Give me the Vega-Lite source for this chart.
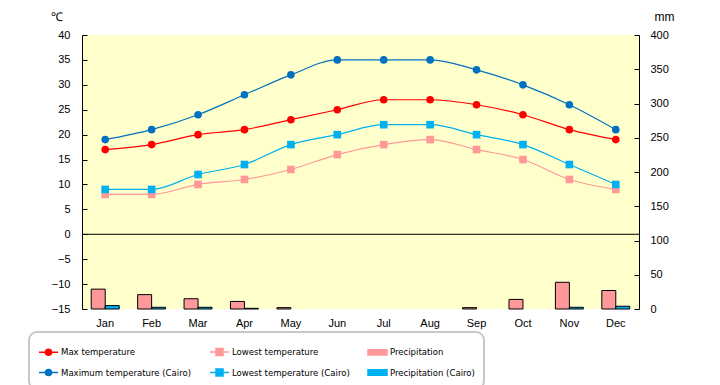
{
  "$schema": "https://vega.github.io/schema/vega-lite/v6.json",
  "width": 557,
  "height": 274,
  "autosize": {"type": "none"},
  "padding": {"left": 82, "top": 35, "right": 81, "bottom": 76},
  "background": "white",
  "config": {
    "view": {"fill": "#FFFFCC", "stroke": null},
    "font": "Liberation Sans",
    "axis": {"labelFont": "Liberation Sans", "labelFontSize": 11, "labelColor": "black", "titleFont": "Liberation Sans", "titleFontSize": 12, "titleFontWeight": "normal", "titleColor": "black", "grid": false, "domainColor": "black", "tickColor": "black", "labelOverlap": false}
  },
  "datasets": {
    "temps": [
      {"month": "Jan", "series": "Max temperature", "value": 17},
      {"month": "Feb", "series": "Max temperature", "value": 18},
      {"month": "Mar", "series": "Max temperature", "value": 20},
      {"month": "Apr", "series": "Max temperature", "value": 21},
      {"month": "May", "series": "Max temperature", "value": 23},
      {"month": "Jun", "series": "Max temperature", "value": 25},
      {"month": "Jul", "series": "Max temperature", "value": 27},
      {"month": "Aug", "series": "Max temperature", "value": 27},
      {"month": "Sep", "series": "Max temperature", "value": 26},
      {"month": "Oct", "series": "Max temperature", "value": 24},
      {"month": "Nov", "series": "Max temperature", "value": 21},
      {"month": "Dec", "series": "Max temperature", "value": 19},
      {"month": "Jan", "series": "Lowest temperature", "value": 8},
      {"month": "Feb", "series": "Lowest temperature", "value": 8},
      {"month": "Mar", "series": "Lowest temperature", "value": 10},
      {"month": "Apr", "series": "Lowest temperature", "value": 11},
      {"month": "May", "series": "Lowest temperature", "value": 13},
      {"month": "Jun", "series": "Lowest temperature", "value": 16},
      {"month": "Jul", "series": "Lowest temperature", "value": 18},
      {"month": "Aug", "series": "Lowest temperature", "value": 19},
      {"month": "Sep", "series": "Lowest temperature", "value": 17},
      {"month": "Oct", "series": "Lowest temperature", "value": 15},
      {"month": "Nov", "series": "Lowest temperature", "value": 11},
      {"month": "Dec", "series": "Lowest temperature", "value": 9},
      {"month": "Jan", "series": "Maximum temperature (Cairo)", "value": 19},
      {"month": "Feb", "series": "Maximum temperature (Cairo)", "value": 21},
      {"month": "Mar", "series": "Maximum temperature (Cairo)", "value": 24},
      {"month": "Apr", "series": "Maximum temperature (Cairo)", "value": 28},
      {"month": "May", "series": "Maximum temperature (Cairo)", "value": 32},
      {"month": "Jun", "series": "Maximum temperature (Cairo)", "value": 35},
      {"month": "Jul", "series": "Maximum temperature (Cairo)", "value": 35},
      {"month": "Aug", "series": "Maximum temperature (Cairo)", "value": 35},
      {"month": "Sep", "series": "Maximum temperature (Cairo)", "value": 33},
      {"month": "Oct", "series": "Maximum temperature (Cairo)", "value": 30},
      {"month": "Nov", "series": "Maximum temperature (Cairo)", "value": 26},
      {"month": "Dec", "series": "Maximum temperature (Cairo)", "value": 21},
      {"month": "Jan", "series": "Lowest temperature (Cairo)", "value": 9},
      {"month": "Feb", "series": "Lowest temperature (Cairo)", "value": 9},
      {"month": "Mar", "series": "Lowest temperature (Cairo)", "value": 12},
      {"month": "Apr", "series": "Lowest temperature (Cairo)", "value": 14},
      {"month": "May", "series": "Lowest temperature (Cairo)", "value": 18},
      {"month": "Jun", "series": "Lowest temperature (Cairo)", "value": 20},
      {"month": "Jul", "series": "Lowest temperature (Cairo)", "value": 22},
      {"month": "Aug", "series": "Lowest temperature (Cairo)", "value": 22},
      {"month": "Sep", "series": "Lowest temperature (Cairo)", "value": 20},
      {"month": "Oct", "series": "Lowest temperature (Cairo)", "value": 18},
      {"month": "Nov", "series": "Lowest temperature (Cairo)", "value": 14},
      {"month": "Dec", "series": "Lowest temperature (Cairo)", "value": 10}
    ],
    "precip": [
      {"month": "Jan", "series": "Precipitation", "value": 29},
      {"month": "Feb", "series": "Precipitation", "value": 21},
      {"month": "Mar", "series": "Precipitation", "value": 15},
      {"month": "Apr", "series": "Precipitation", "value": 11},
      {"month": "May", "series": "Precipitation", "value": 2},
      {"month": "Sep", "series": "Precipitation", "value": 2},
      {"month": "Oct", "series": "Precipitation", "value": 14},
      {"month": "Nov", "series": "Precipitation", "value": 39},
      {"month": "Dec", "series": "Precipitation", "value": 27},
      {"month": "Jan", "series": "Precipitation (Cairo)", "value": 5},
      {"month": "Feb", "series": "Precipitation (Cairo)", "value": 2.5},
      {"month": "Mar", "series": "Precipitation (Cairo)", "value": 2.5},
      {"month": "Apr", "series": "Precipitation (Cairo)", "value": 1},
      {"month": "Nov", "series": "Precipitation (Cairo)", "value": 2.5},
      {"month": "Dec", "series": "Precipitation (Cairo)", "value": 4}
    ]
  },
  "layer": [
    {
      "data": {"name": "precip"},
      "mark": {"type": "bar", "stroke": "black", "strokeWidth": 1},
      "encoding": {
        "x": {"field": "month", "type": "nominal", "sort": ["Jan","Feb","Mar","Apr","May","Jun","Jul","Aug","Sep","Oct","Nov","Dec"], "scale": {"paddingInner": 0, "paddingOuter": 0}, "axis": {"title": null, "domain": false, "ticks": false, "labelAngle": 0, "labelPadding": 8}},
        "xOffset": {"field": "series", "type": "nominal", "sort": ["Precipitation", "Precipitation (Cairo)"], "scale": {"paddingInner": 0, "paddingOuter": 0.66}},
        "y": {"field": "value", "type": "quantitative", "scale": {"domain": [0, 400], "nice": false}, "axis": {"orient": "right", "values": [0,50,100,150,200,250,300,350,400], "title": "mm", "titleAngle": 0, "titleX": 25, "titleY": -12, "titleAlign": "center", "titleBaseline": "bottom", "tickSize": -5, "labelPadding": 16}},
        "color": {
          "field": "series", "type": "nominal",
          "scale": {
            "domain": ["Max temperature", "Lowest temperature", "Precipitation", "Maximum temperature (Cairo)", "Lowest temperature (Cairo)", "Precipitation (Cairo)"],
            "range": ["#FF0000", "#FF9999", "#FF9999", "#0070C0", "#00B0F0", "#00B0F0"]
          },
          "legend": {
            "orient": "none", "legendX": -53, "legendY": 297, "columns": 3, "direction": "horizontal", "title": null,
            "strokeColor": "#C8C8C8", "cornerRadius": 8, "padding": 9, "fillColor": "white",
            "columnPadding": 15, "rowPadding": 3, "gridAlign": "each",
            "symbolSize": 361, "symbolStrokeWidth": 1.5, "symbolStrokeColor": "black", "labelFontSize": 9.5, "labelFont": "DejaVu Sans Condensed, Roboto Condensed, Liberation Sans Narrow, Roboto", "labelOffset": 2, "labelColor": "black",
            "encoding": {
              "symbols": {
                "shape": {"value": {"expr": "indexof(datum.value, 'Precip') === 0 ? 'M-1,-0.28H1V0.28H-1Z' : (indexof(datum.value, 'Lowest') === 0 ? 'M-1,0H1M-0.37,-0.37H0.37V0.37H-0.37Z' : 'M-1,0H1M-0.32,0A0.32,0.32,0,1,1,0.32,0A0.32,0.32,0,1,1,-0.32,0Z')"}},
                "fill": {"value": {"expr": "scale('color', datum.value)"}},
                "fillOpacity": {"value": 1},
                "strokeOpacity": {"value": 1},
                "opacity": {"value": 1},
                "stroke": {"value": {"expr": "indexof(datum.value, 'Precip') === 0 ? '#000000' : scale('color', datum.value)"}},
                "strokeWidth": {"value": 1.5}
              },
              "legend": {"strokeWidth": {"value": 2}}
            }
          }
        }
      }
    },
    {
      "layer": [
        {
          "data": {"values": [{"v": 0}]},
          "mark": {"type": "rule", "color": "black", "strokeWidth": 1},
          "encoding": {
            "y": {"field": "v", "type": "quantitative", "scale": {"domain": [-15, 40], "nice": false}, "axis": {"orient": "left", "values": [-15,-10,-5,0,5,10,15,20,25,30,35,40], "labelOverlap": false, "title": "℃", "titleAngle": 0, "titleX": -26, "titleY": -12, "titleAlign": "center", "titleBaseline": "bottom", "tickSize": -5, "labelPadding": 17}}
          }
        },
        {
          "data": {"name": "temps"},
          "mark": {"type": "line", "interpolate": "monotone", "strokeWidth": 1.2},
          "encoding": {
            "x": {"field": "month", "type": "nominal", "sort": ["Jan","Feb","Mar","Apr","May","Jun","Jul","Aug","Sep","Oct","Nov","Dec"]},
            "y": {"field": "value", "type": "quantitative", "scale": {"domain": [-15, 40], "nice": false}, "axis": {"orient": "left", "values": [-15,-10,-5,0,5,10,15,20,25,30,35,40], "labelOverlap": false, "title": "℃", "titleAngle": 0, "titleX": -26, "titleY": -12, "titleAlign": "center", "titleBaseline": "bottom", "tickSize": -5, "labelPadding": 17}},
            "color": {"field": "series", "type": "nominal"}
          }
        },
        {
          "data": {"name": "temps"},
          "mark": {"type": "point", "filled": true, "opacity": 1, "size": 58},
          "encoding": {
            "x": {"field": "month", "type": "nominal", "sort": ["Jan","Feb","Mar","Apr","May","Jun","Jul","Aug","Sep","Oct","Nov","Dec"]},
            "y": {"field": "value", "type": "quantitative", "scale": {"domain": [-15, 40], "nice": false}, "axis": {"orient": "left", "values": [-15,-10,-5,0,5,10,15,20,25,30,35,40], "labelOverlap": false, "title": "℃", "titleAngle": 0, "titleX": -26, "titleY": -12, "titleAlign": "center", "titleBaseline": "bottom", "tickSize": -5, "labelPadding": 17}},
            "color": {"field": "series", "type": "nominal"},
            "shape": {"field": "series", "type": "nominal", "scale": {"domain": ["Max temperature", "Lowest temperature", "Maximum temperature (Cairo)", "Lowest temperature (Cairo)"], "range": ["circle", "square", "circle", "square"]}, "legend": null}
          }
        }
      ]
    }
  ],
  "resolve": {"scale": {"y": "independent"}}
}
